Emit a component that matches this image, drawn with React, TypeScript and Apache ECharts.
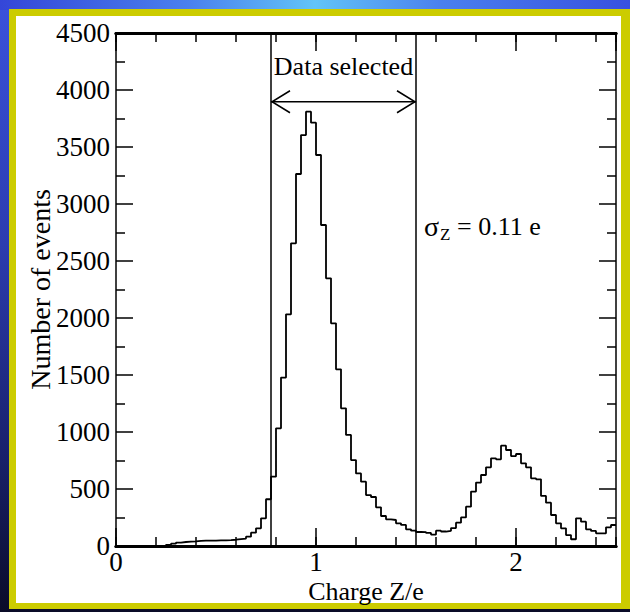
import React, { useEffect, useRef } from 'react';
import * as echarts from 'echarts';

// Histogram: bin width and counts per bin (bins start at Z/e = 0)
const binWidth = 0.025;
const counts: number[] = [
  0, 0, 0, 0, 0, 0, 0, 0, 0, 0,
  10, 20, 30, 35, 38, 40, 45, 47, 48, 48,
  50, 50, 52, 55, 60, 65, 82, 117, 155, 243,
  410, 608, 1032, 1477, 2032, 2655, 3263, 3605, 3810, 3713,
  3430, 2816, 2348, 1953, 1550, 1208, 974, 754, 637, 564,
  447, 430, 339, 263, 234, 228, 199, 185, 146, 134,
  123, 122, 115, 100, 134, 127, 133, 157, 205, 251,
  345, 477, 556, 623, 690, 769, 760, 880, 842, 789,
  807, 725, 690, 594, 585, 439, 380, 272, 199, 155,
  96, 59, 243, 213, 146, 132, 111, 111, 164, 184,
];

const xTickLabels = ['0', '1', '2'];
const xMin = 0;
const xMax = 2.5;
const yMin = 0;
const yMax = 4500;

// Annotation values
const selectionLow = 0.775;
const selectionHigh = 1.5;
const arrowLevel = 3897;
const selectedTextLevel = 4210;
const sigmaX = 1.54;
const sigmaLevel = 2800;
const sigmaLabel = ['σ', 'Z', '= 0.11 e'];
const selectedLabel = 'Data selected';

const FONT = "'Liberation Serif', 'DejaVu Serif', serif";

export default function App() {
  const ref = useRef<HTMLDivElement>(null);

  useEffect(() => {
    if (!ref.current) return;
    const chart = echarts.init(ref.current, undefined, { renderer: 'svg' });

    const histData: number[][] = counts.map((c, k) => [xMin + k * binWidth, c]);
    histData.push([xMin + counts.length * binWidth, counts[counts.length - 1]]);

    const tickFont = { fontFamily: FONT, fontSize: 27, color: '#000' };

    const xBase = {
      type: 'value' as const,
      min: xMin,
      max: xMax,
      splitLine: { show: false },
      axisLine: { show: true, onZero: false, lineStyle: { color: '#000', width: 3 } },
    };

    const yBase = {
      type: 'value' as const,
      min: yMin,
      max: yMax,
      interval: 500,
      splitLine: { show: false },
      axisLine: { show: true, onZero: false, lineStyle: { color: '#000', width: 1.5 } },
      axisTick: { show: true, inside: true, length: 17, lineStyle: { color: '#000', width: 1.5 } },
      minorTick: { show: true, splitNumber: 2, length: 9, lineStyle: { color: '#000', width: 1.5 } },
    };

    const option: any = {
      animation: false,
      grid: { left: 116, top: 33, width: 500, height: 513, containLabel: false },
      xAxis: [
        {
          ...xBase,
          position: 'bottom',
          interval: 1,
          name: 'Charge Z/e',
          nameLocation: 'middle',
          nameGap: 32,
          nameMoveOverlap: false,
          nameTextStyle: { fontFamily: FONT, fontSize: 26, color: '#000' },
          axisTick: { show: true, inside: true, length: 18, lineStyle: { color: '#000', width: 1.5 } },
          axisLabel: {
            ...tickFont,
            margin: 2,
            showMaxLabel: false,
            formatter: (v: number) => (Number.isInteger(v) && xTickLabels.includes(String(v)) ? String(v) : ''),
          },
        },
        {
          ...xBase,
          position: 'bottom',
          interval: 0.2,
          axisTick: { show: true, inside: true, length: 9, lineStyle: { color: '#000', width: 1.5 } },
          axisLabel: { show: false },
        },
        {
          ...xBase,
          position: 'top',
          interval: 1,
          axisTick: { show: true, inside: true, length: 18, lineStyle: { color: '#000', width: 1.5 } },
          axisLabel: { show: false },
        },
        {
          ...xBase,
          position: 'top',
          interval: 0.2,
          axisTick: { show: true, inside: true, length: 9, lineStyle: { color: '#000', width: 1.5 } },
          axisLabel: { show: false },
        },
      ],
      yAxis: [
        {
          ...yBase,
          position: 'left',
          name: 'Number of events',
          nameLocation: 'middle',
          nameGap: 62,
          nameMoveOverlap: false,
          nameTextStyle: { fontFamily: FONT, fontSize: 28, color: '#000' },
          axisLabel: { ...tickFont, margin: 6, formatter: (v: number) => String(v) },
        },
        {
          ...yBase,
          position: 'right',
          axisLabel: { show: false },
        },
      ],
      series: [
        {
          type: 'line',
          xAxisIndex: 0,
          yAxisIndex: 0,
          step: 'end',
          data: histData,
          showSymbol: false,
          symbol: 'none',
          lineStyle: { color: '#000', width: 1.8 },
          z: 3,
        },
        {
          type: 'custom',
          xAxisIndex: 0,
          yAxisIndex: 0,
          clip: false,
          z: 4,
          data: [[selectionLow, selectionHigh, arrowLevel, selectedTextLevel, sigmaX, sigmaLevel]],
          renderItem: (_params: any, api: any) => {
            const lo = api.value(0);
            const hi = api.value(1);
            const ay = api.value(2);
            const ty = api.value(3);
            const sx = api.value(4);
            const sy = api.value(5);
            const loB = api.coord([lo, yMin]);
            const loT = api.coord([lo, yMax]);
            const hiB = api.coord([hi, yMin]);
            const hiT = api.coord([hi, yMax]);
            const a0 = api.coord([lo, ay]);
            const a1 = api.coord([hi, ay]);
            const t = api.coord([(lo + hi) / 2, ty]);
            const s = api.coord([sx, sy]);
            const stroke = { stroke: '#000', lineWidth: 1.5, fill: null };
            return {
              type: 'group',
              children: [
                { type: 'line', shape: { x1: loB[0], y1: loB[1], x2: loT[0], y2: loT[1] }, style: stroke },
                { type: 'line', shape: { x1: hiB[0], y1: hiB[1], x2: hiT[0], y2: hiT[1] }, style: stroke },
                { type: 'line', shape: { x1: a0[0], y1: a0[1], x2: a1[0], y2: a1[1] }, style: stroke },
                {
                  type: 'polyline',
                  shape: { points: [[a0[0] + 19, a0[1] - 11], [a0[0] + 1, a0[1]], [a0[0] + 19, a0[1] + 11]] },
                  style: stroke,
                },
                {
                  type: 'polyline',
                  shape: { points: [[a1[0] - 19, a1[1] - 11], [a1[0] - 1, a1[1]], [a1[0] - 19, a1[1] + 11]] },
                  style: stroke,
                },
                {
                  type: 'text',
                  x: t[0],
                  y: t[1],
                  style: { text: selectedLabel, fontFamily: FONT, fontSize: 26, fill: '#000', align: 'center', verticalAlign: 'middle' },
                },
                {
                  type: 'text',
                  x: s[0],
                  y: s[1],
                  style: { text: sigmaLabel[0], fontFamily: FONT, fontSize: 28, fill: '#000', align: 'left', verticalAlign: 'middle' },
                },
                {
                  type: 'text',
                  x: s[0] + 16,
                  y: s[1] + 8,
                  style: { text: sigmaLabel[1], fontFamily: FONT, fontSize: 17, fill: '#000', align: 'left', verticalAlign: 'middle' },
                },
                {
                  type: 'text',
                  x: s[0] + 33,
                  y: s[1],
                  style: { text: sigmaLabel[2], fontFamily: FONT, fontSize: 26, fill: '#000', align: 'left', verticalAlign: 'middle' },
                },
              ],
            };
          },
        },
      ],
    };

    chart.setOption(option);
    return () => chart.dispose();
  }, []);

  return (
    <div
      style={{
        position: 'fixed',
        left: 0,
        top: 0,
        width: 630,
        height: 612,
        overflow: 'hidden',
        background: 'linear-gradient(180deg, #3a52dc 0%, #2c3cb0 40%, #18206a 75%, #0a0b28 100%)',
      }}
    >
      <div
        style={{
          position: 'absolute',
          left: 0,
          top: 0,
          width: 630,
          height: 10,
          background: 'linear-gradient(90deg, #3446d8 0%, #4a80ee 30%, #62c4f8 50%, #4a80ee 70%, #3850e0 100%)',
        }}
      />
      <div style={{ position: 'absolute', left: 9, top: 9, width: 621, height: 600, background: '#cccc00' }} />
      <div style={{ position: 'absolute', left: 16, top: 16, width: 605, height: 587, background: '#ffffff' }} />
      <div ref={ref} style={{ position: 'absolute', left: 0, top: 0, width: 630, height: 612 }} />
    </div>
  );
}
